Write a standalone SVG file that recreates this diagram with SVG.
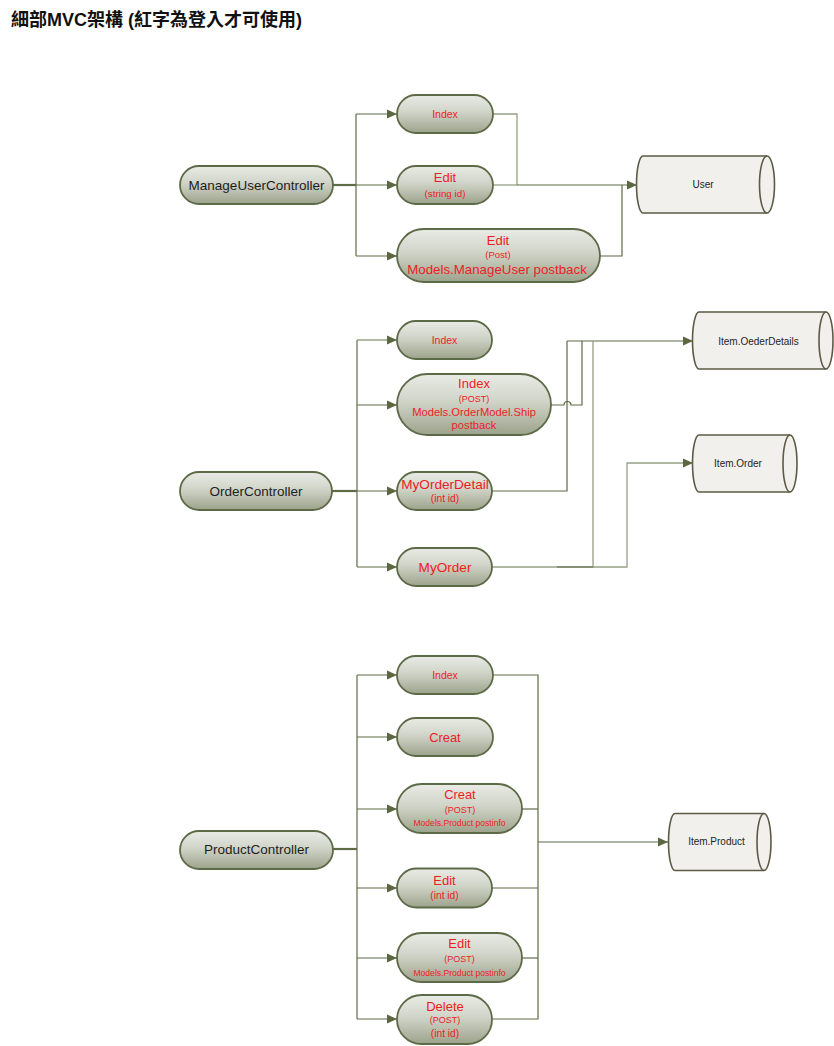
<svg xmlns="http://www.w3.org/2000/svg" width="834" height="1046" viewBox="0 0 834 1046">
<defs>
<linearGradient id="pill" x1="0" y1="0" x2="0" y2="1">
<stop offset="0" stop-color="#e9ebe5"/>
<stop offset="0.45" stop-color="#d0d4c8"/>
<stop offset="1" stop-color="#9ca38b"/>
</linearGradient>
<marker id="arr" markerUnits="userSpaceOnUse" markerWidth="11" markerHeight="10" refX="10" refY="5" orient="auto">
<path d="M0,0.5 L10,5 L0,9.5 z" fill="#5a6741"/>
</marker>
<style>
.pill{fill:url(#pill);stroke:#5d6a47;stroke-width:1.8}
.db{fill:#f1f0ed;stroke:#5c5a45;stroke-width:1.6}
.dbl{fill:none;stroke:#5c5a45;stroke-width:1.6}
.c{fill:none;stroke:#5e6b47;stroke-width:1.2}
.cl{fill:none;stroke:#97a086;stroke-width:1.3}
.ct{fill:none;stroke:#5e6b47;stroke-width:2.2}
.a{marker-end:url(#arr)}
text{font-family:"Liberation Sans",Arial,sans-serif;text-anchor:middle;dominant-baseline:central}
.k{fill:#1e1e1e;font-size:13.5px}
.r{fill:#ee1c24}
.d{fill:#1e1e1e;font-size:10px}
</style>
</defs>
<rect width="834" height="1046" fill="#ffffff"/>
<text x="11" y="26" style="text-anchor:start;dominant-baseline:auto;font-family:'Liberation Sans','Noto Sans CJK TC',sans-serif;font-size:18px;font-weight:bold;fill:#111">細部MVC架構 (紅字為登入才可使用)</text>

<g id="connectors">
<!-- ManageUser -->
<path class="ct" d="M333 185 H356"/>
<path class="c" d="M356 114 V256"/>
<path class="c a" d="M356 114 H397"/>
<path class="c a" d="M356 185 H397"/>
<path class="c a" d="M356 256 H397"/>
<path class="cl" d="M493 114 H517 V185"/>
<path class="cl" d="M493 185 H517"/>
<path class="c" d="M600 256 H622 V185"/>
<path class="c a" d="M517 185 H637"/>
<!-- Order -->
<path class="ct" d="M332 491 H357"/>
<path class="c" d="M357 340 V567"/>
<path class="cl a" d="M357 340 H397"/>
<path class="c a" d="M357 405 H397"/>
<path class="c a" d="M357 491 H397"/>
<path class="c a" d="M357 567 H397"/>
<path class="c" d="M551 405 H564 A3.5 3.5 0 0 1 571 405 H582 V341"/>
<path class="c" d="M492 491 H567 V341"/>
<path class="c" d="M567 341 H693" marker-end="url(#arr)"/>
<path class="cl" d="M492 567 H593 V341"/>
<path class="c" d="M557 567 H593"/>
<path class="cl a" d="M593 567 H627 V463 H693"/>
<!-- Product -->
<path class="ct" d="M333 849 H357"/>
<path class="c" d="M357 675 V1019"/>
<path class="c a" d="M357 675 H397"/>
<path class="c a" d="M357 737 H397"/>
<path class="c a" d="M357 809 H397"/>
<path class="c a" d="M357 888 H397"/>
<path class="c a" d="M357 958 H397"/>
<path class="c a" d="M357 1019 H397"/>
<path class="c" d="M493 675 H538 V1019 H493"/>
<path class="c" d="M522 809 H538"/>
<path class="c" d="M492 888 H538"/>
<path class="c" d="M522 958 H538"/>
<path class="c a" d="M538 842 H668"/>
</g>

<!-- ManageUser section -->
<g id="ManageUserController"><rect class="pill" x="180" y="166" width="153" height="38" rx="19"/><text class="k" x="256.5" y="185">ManageUserController</text></g>
<g id="mu-index"><rect class="pill" x="397" y="95" width="96" height="38" rx="19"/><text class="r" x="445" y="114" font-size="10.5">Index</text></g>
<g id="mu-edit"><rect class="pill" x="397" y="166" width="96" height="38" rx="19"/><text class="r" x="445" y="177.5" font-size="13">Edit</text><text class="r" x="445" y="193" font-size="9.8">(string id)</text></g>
<g id="mu-editpost"><rect class="pill" x="397" y="229" width="203" height="53" rx="26.5"/><text class="r" x="498" y="240" font-size="13">Edit</text><text class="r" x="498" y="254.5" font-size="9.5">(Post)</text><text class="r" x="497" y="269" font-size="13.3">Models.ManageUser postback</text></g>
<g id="db-user"><path class="db" d="M643 156 H767 A7.5 28.5 0 0 1 767 213 H643 A6.5 28.5 0 0 1 643 156 Z"/><path class="dbl" d="M767 156 A7.5 28.5 0 0 0 767 213"/><text class="d" x="703" y="184.5" font-size="9.6">User</text></g>

<!-- Order section -->
<g id="OrderController"><rect class="pill" x="180" y="472" width="152" height="38" rx="19"/><text class="k" x="256" y="491">OrderController</text></g>
<g id="or-index"><rect class="pill" x="397" y="321" width="95" height="38" rx="19"/><text class="r" x="444.5" y="340" font-size="10.5">Index</text></g>
<g id="or-indexpost"><rect class="pill" x="397" y="374" width="154" height="61" rx="30.5"/><text class="r" x="474" y="383.5" font-size="13">Index</text><text class="r" x="474" y="398.5" font-size="9">(POST)</text><text class="r" x="474" y="411.5" font-size="11.2">Models.OrderModel.Ship</text><text class="r" x="474" y="424.5" font-size="11.2">postback</text></g>
<g id="or-myorderdetail"><rect class="pill" x="397" y="472" width="95" height="38" rx="19"/><text class="r" x="445" y="484.5" font-size="13.6">MyOrderDetail</text><text class="r" x="445" y="498.5" font-size="10.2">(int id)</text></g>
<g id="or-myorder"><rect class="pill" x="397" y="548" width="95" height="38" rx="19"/><text class="r" x="445" y="567" font-size="13.6">MyOrder</text></g>
<g id="db-orderdetails"><path class="db" d="M699 312 H826 A7 28.5 0 0 1 826 369 H699 A6.5 28.5 0 0 1 699 312 Z"/><path class="dbl" d="M826 312 A7 28.5 0 0 0 826 369"/><text class="d" x="758.5" y="341">Item.OederDetails</text></g>
<g id="db-order"><path class="db" d="M699 435 H790 A7 28.5 0 0 1 790 492 H699 A6.5 28.5 0 0 1 699 435 Z"/><path class="dbl" d="M790 435 A7 28.5 0 0 0 790 492"/><text class="d" x="738" y="463" font-size="9.6">Item.Order</text></g>

<!-- Product section -->
<g id="ProductController"><rect class="pill" x="180" y="831" width="153" height="38" rx="19"/><text class="k" x="256.5" y="849.5">ProductController</text></g>
<g id="pr-index"><rect class="pill" x="397" y="656" width="96" height="38" rx="19"/><text class="r" x="445" y="675" font-size="10.5">Index</text></g>
<g id="pr-creat"><rect class="pill" x="397" y="718" width="96" height="38" rx="19"/><text class="r" x="445" y="737" font-size="12.8">Creat</text></g>
<g id="pr-creatpost"><rect class="pill" x="397" y="784" width="125" height="49" rx="24.5"/><text class="r" x="460" y="794.5" font-size="12.8">Creat</text><text class="r" x="460" y="809.5" font-size="9">(POST)</text><text class="r" x="459.5" y="823" font-size="8.6">Models.Product postinfo</text></g>
<g id="pr-edit"><rect class="pill" x="397" y="868.5" width="95" height="39" rx="19.5"/><text class="r" x="444.5" y="880.5" font-size="13">Edit</text><text class="r" x="444.5" y="895" font-size="10.2">(int id)</text></g>
<g id="pr-editpost"><rect class="pill" x="397" y="933" width="125" height="49" rx="24.5"/><text class="r" x="459.5" y="943.5" font-size="13">Edit</text><text class="r" x="459.5" y="958.5" font-size="9">(POST)</text><text class="r" x="459.5" y="972.5" font-size="8.6">Models.Product postinfo</text></g>
<g id="pr-delete"><rect class="pill" x="397" y="995" width="95" height="49" rx="24.5"/><text class="r" x="445" y="1006" font-size="13">Delete</text><text class="r" x="445" y="1020" font-size="9">(POST)</text><text class="r" x="445" y="1033.5" font-size="10.2">(int id)</text></g>
<g id="db-product"><path class="db" d="M675 813.5 H764 A7 28.5 0 0 1 764 870.5 H675 A6.5 28.5 0 0 1 675 813.5 Z"/><path class="dbl" d="M764 813.5 A7 28.5 0 0 0 764 870.5"/><text class="d" x="716.5" y="841.5">Item.Product</text></g>
</svg>
